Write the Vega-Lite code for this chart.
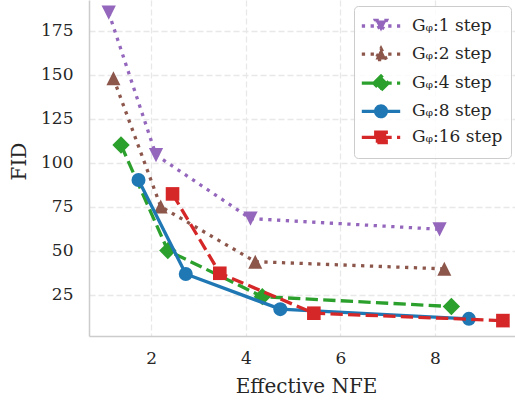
{
  "$schema": "https://vega.github.io/schema/vega-lite/v6.json",
  "width": 426,
  "height": 336,
  "autosize": {"type": "none"},
  "padding": {"left": 89, "top": 0, "right": 0, "bottom": 66},
  "background": "white",
  "data": {
    "values": [
      {"series": "Gᵩ:1 step", "nfe": 1.1, "fid": 185.4},
      {"series": "Gᵩ:1 step", "nfe": 2.1, "fid": 104.5},
      {"series": "Gᵩ:1 step", "nfe": 4.1, "fid": 68.4},
      {"series": "Gᵩ:1 step", "nfe": 8.1, "fid": 62.3},
      {"series": "Gᵩ:2 step", "nfe": 1.2, "fid": 148.1},
      {"series": "Gᵩ:2 step", "nfe": 2.2, "fid": 75.2},
      {"series": "Gᵩ:2 step", "nfe": 4.2, "fid": 43.9},
      {"series": "Gᵩ:2 step", "nfe": 8.2, "fid": 39.8},
      {"series": "Gᵩ:4 step", "nfe": 1.36, "fid": 110.2},
      {"series": "Gᵩ:4 step", "nfe": 2.35, "fid": 50.2},
      {"series": "Gᵩ:4 step", "nfe": 4.35, "fid": 24.0},
      {"series": "Gᵩ:4 step", "nfe": 8.35, "fid": 18.4},
      {"series": "Gᵩ:8 step", "nfe": 1.73, "fid": 90.3},
      {"series": "Gᵩ:8 step", "nfe": 2.73, "fid": 36.9},
      {"series": "Gᵩ:8 step", "nfe": 4.73, "fid": 16.9},
      {"series": "Gᵩ:8 step", "nfe": 8.72, "fid": 11.4},
      {"series": "Gᵩ:16 step", "nfe": 2.45, "fid": 82.4},
      {"series": "Gᵩ:16 step", "nfe": 3.45, "fid": 37.3},
      {"series": "Gᵩ:16 step", "nfe": 5.44, "fid": 14.6},
      {"series": "Gᵩ:16 step", "nfe": 9.44, "fid": 10.4}
    ]
  },
  "encoding": {
    "x": {
      "field": "nfe", "type": "quantitative",
      "scale": {"domain": [0.6825, 9.696], "nice": false, "zero": false},
      "axis": {"values": [2, 4, 6, 8], "title": "Effective NFE", "titleX": 217}
    },
    "y": {
      "field": "fid", "type": "quantitative",
      "scale": {"domain": [1.65, 192.6], "nice": false, "zero": false},
      "axis": {"values": [25, 50, 75, 100, 125, 150, 175], "title": "FID", "titleX": -70, "titleY": 161, "titleBaseline": "middle", "titleAngle": -90}
    }
  },
  "layer": [
    {
      "transform": [{"filter": {"field": "series", "equal": "Gᵩ:1 step"}}],
      "layer": [
        {"mark": {"type": "line", "color": "#9467bd", "strokeWidth": 3.3, "strokeDash": [3.3, 5.5]}, "encoding": {}},
        {"mark": {"type": "point", "filled": true, "opacity": 1, "color": "#9467bd", "size": 204, "strokeWidth": 0, "shape": "M-1,-1L1,-1L0,1Z"}}
      ]
    },
    {
      "transform": [{"filter": {"field": "series", "equal": "Gᵩ:2 step"}}],
      "layer": [
        {"mark": {"type": "line", "color": "#8c564b", "strokeWidth": 3.3, "strokeDash": [3.3, 5.5]}, "encoding": {}},
        {"mark": {"type": "point", "filled": true, "opacity": 1, "color": "#8c564b", "size": 196, "strokeWidth": 0, "shape": "M0,-1L1,1L-1,1Z"}}
      ]
    },
    {
      "transform": [{"filter": {"field": "series", "equal": "Gᵩ:4 step"}}],
      "layer": [
        {"mark": {"type": "line", "color": "#2ca02c", "strokeWidth": 3.3, "strokeDash": [12.3, 5.3]}, "encoding": {}},
        {"mark": {"type": "point", "filled": true, "opacity": 1, "color": "#2ca02c", "size": 300, "strokeWidth": 0, "shape": "diamond"}}
      ]
    },
    {
      "transform": [{"filter": {"field": "series", "equal": "Gᵩ:8 step"}}],
      "layer": [
        {"mark": {"type": "line", "color": "#1f77b4", "strokeWidth": 3.3}, "encoding": {}},
        {"mark": {"type": "point", "filled": true, "opacity": 1, "color": "#1f77b4", "size": 196, "strokeWidth": 0, "shape": "circle"}}
      ]
    },
    {
      "transform": [{"filter": {"field": "series", "equal": "Gᵩ:16 step"}}],
      "layer": [
        {"mark": {"type": "line", "color": "#d62728", "strokeWidth": 3.3, "strokeDash": [12.3, 5.3]}, "encoding": {}},
        {"mark": {"type": "point", "filled": true, "opacity": 1, "color": "#d62728", "size": 185, "strokeWidth": 0, "shape": "square"}}
      ]
    },
    {
      "transform": [{"filter": {"field": "fid", "lt": 0}}],
      "mark": {"type": "point", "filled": true, "opacity": 1, "strokeWidth": 3.3},
      "encoding": {
        "color": {
          "field": "series", "type": "nominal",
          "scale": {"domain": ["Gᵩ:1 step", "Gᵩ:2 step", "Gᵩ:4 step", "Gᵩ:8 step", "Gᵩ:16 step"], "range": ["#9467bd", "#8c564b", "#2ca02c", "#1f77b4", "#d62728"]},
          "legend": {"title": null, "orient": "none", "legendX": 265, "legendY": 6, "symbolSize": 400, "symbolStrokeWidth": 3.3, "symbolOpacity": 1, "symbolOffset": 7, "labelOffset": 19, "rowPadding": 2.1, "padding": 8, "strokeColor": "#cccccc", "fillColor": "rgba(255,255,255,0.8)", "cornerRadius": 4, "labelFont": "DejaVu Serif", "labelFontSize": 17, "labelColor": "#262626", "labelLimit": 300}
        },
        "stroke": {
          "field": "series", "type": "nominal",
          "scale": {"domain": ["Gᵩ:1 step", "Gᵩ:2 step", "Gᵩ:4 step", "Gᵩ:8 step", "Gᵩ:16 step"], "range": ["#9467bd", "#8c564b", "#2ca02c", "#1f77b4", "#d62728"]},
          "legend": {"title": null, "orient": "none", "legendX": 265, "legendY": 6}
        },
        "shape": {
          "field": "series", "type": "nominal",
          "scale": {"domain": ["Gᵩ:1 step", "Gᵩ:2 step", "Gᵩ:4 step", "Gᵩ:8 step", "Gᵩ:16 step"], "range": [
            "M-1.92,0H1.92M-0.55,-0.55L0.55,-0.55L0,0.55Z",
            "M-1.92,0H1.92M0,-0.55L0.55,0.55L-0.55,0.55Z",
            "M-1.92,0H1.92M-0.71,0L0,-0.71L0.71,0L0,0.71Z",
            "M-1.92,0H1.92M-0.535,0A0.535,0.535 0 1,0 0.535,0A0.535,0.535 0 1,0 -0.535,0Z",
            "M-1.92,0H1.92M-0.525,-0.525H0.525V0.525H-0.525Z"
          ]},
          "legend": {"title": null, "orient": "none", "legendX": 265, "legendY": 6}
        },
        "strokeDash": {
          "field": "series", "type": "nominal",
          "scale": {"domain": ["Gᵩ:1 step", "Gᵩ:2 step", "Gᵩ:4 step", "Gᵩ:8 step", "Gᵩ:16 step"], "range": [[3.3, 5.5], [3.3, 5.5], [12.3, 5.3], [1, 0], [12.3, 5.3]]},
          "legend": {"title": null, "orient": "none", "legendX": 265, "legendY": 6}
        }
      }
    }
  ],
  "config": {
    "font": "DejaVu Serif",
    "view": {"stroke": null},
    "axis": {
      "domainColor": "#cccccc", "domainWidth": 1.5, "ticks": false, "tickSize": 0,
      "grid": true, "gridColor": "#e8e8e8", "gridDash": [6, 3], "gridWidth": 1.3,
      "labelFont": "DejaVu Serif", "labelFontSize": 17, "labelColor": "#262626",
      "titleFont": "DejaVu Serif", "titleFontSize": 20, "titleFontWeight": "normal", "titleColor": "#262626"
    },
    "axisX": {"labelPadding": 14, "titlePadding": 10},
    "axisY": {"labelPadding": 16},
    "legend": {"labelFont": "DejaVu Serif", "labelFontSize": 17, "labelColor": "#262626", "labelLimit": 300}
  }
}
